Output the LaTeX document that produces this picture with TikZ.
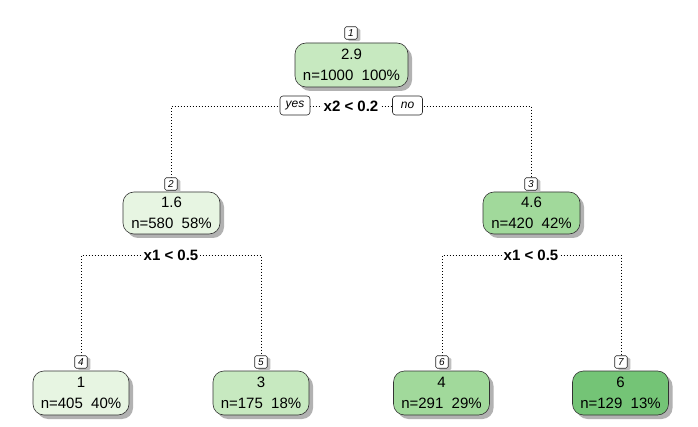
\documentclass[tikz,border=0pt]{standalone}
\usepackage{fontspec}
\setmainfont{Liberation Sans}
\usetikzlibrary{shadows,backgrounds}
\definecolor{gA}{HTML}{E7F5E2}
\definecolor{gB}{HTML}{C7E9C0}
\definecolor{gC}{HTML}{A1D99B}
\definecolor{gD}{HTML}{74C476}
\newcommand{\gapsp}{\hspace{0.55em}}
\begin{document}
\begin{tikzpicture}[x=1pt,y=-1pt,
 tn/.style={draw=black!80, line width=0.6pt, rounded corners=11pt, minimum width=96pt, minimum height=44pt, inner sep=0pt, align=center, font=\fontsize{15}{21}\selectfont, drop shadow={shadow xshift=4pt, shadow yshift=-4pt, fill=black!30, opacity=1}},
 num/.style={draw=black!85, fill=white, line width=0.6pt, rounded corners=1.5pt, minimum size=12.5pt, inner sep=0pt, font=\fontsize{10}{10}\selectfont\itshape, drop shadow={shadow xshift=3pt, shadow yshift=-2pt, fill=black!25, opacity=1}},
 splitlab/.style={fill=white, inner xsep=2pt, inner ysep=1pt, font=\fontsize{15}{15}\selectfont\bfseries},
 yn/.style={draw=black!85, fill=white, rounded corners=3pt, minimum width=30pt, minimum height=19pt, inner sep=0pt, font=\fontsize{12}{12}\selectfont\itshape, line width=0.6pt},
 conn/.style={line width=0.8pt, dash pattern=on 0.8pt off 2.2pt}]
\useasboundingbox (0,0) rectangle (698,427);
% tree nodes
\node[tn, fill=gB, minimum width=113pt] (n1) at (351.5,65) {2.9\\n=1000\gapsp 100\%};
\node[num] (k1) at (351,33) {1};
\node[tn, fill=gA, minimum width=97pt, minimum height=42pt] (n2) at (171.5,213) {1.6\\n=580\gapsp 58\%};
\node[num] (k2) at (171,184) {2};
\node[tn, fill=gC, minimum width=97pt, minimum height=42pt] (n3) at (531.5,213) {4.6\\n=420\gapsp 42\%};
\node[num] (k3) at (531,184) {3};
\node[tn, fill=gA] (n4) at (81,393) {1\\n=405\gapsp 40\%};
\node[num] (k4) at (81,362) {4};
\node[tn, fill=gB] (n5) at (261,393) {3\\n=175\gapsp 18\%};
\node[num] (k5) at (261,362) {5};
\node[tn, fill=gC] (n6) at (441.5,393) {4\\n=291\gapsp 29\%};
\node[num] (k6) at (442,362) {6};
\node[tn, fill=gD] (n7) at (620.5,393) {6\\n=129\gapsp 13\%};
\node[num] (k7) at (621,362) {7};
% split labels
\node[splitlab] (s1) at (351,106) {x2 < 0.2};
\node[yn] (yes) at (295,105.5) {yes};
\node[yn] (no) at (407.5,105.5) {no};
\node[splitlab] (s2) at (171,255) {x1 < 0.5};
\node[splitlab] (s3) at (531,255) {x1 < 0.5};
\begin{pgfonlayer}{background}
\fill[white] (0,0) rectangle (698,427);
\draw[conn] (k2.north) |- (s1.center) -| (k3.north);
\draw[conn] (k4.north) |- (s2.center) -| (k5.north);
\draw[conn] (k6.north) |- (s3.center) -| (k7.north);
\end{pgfonlayer}
\end{tikzpicture}
\end{document}
